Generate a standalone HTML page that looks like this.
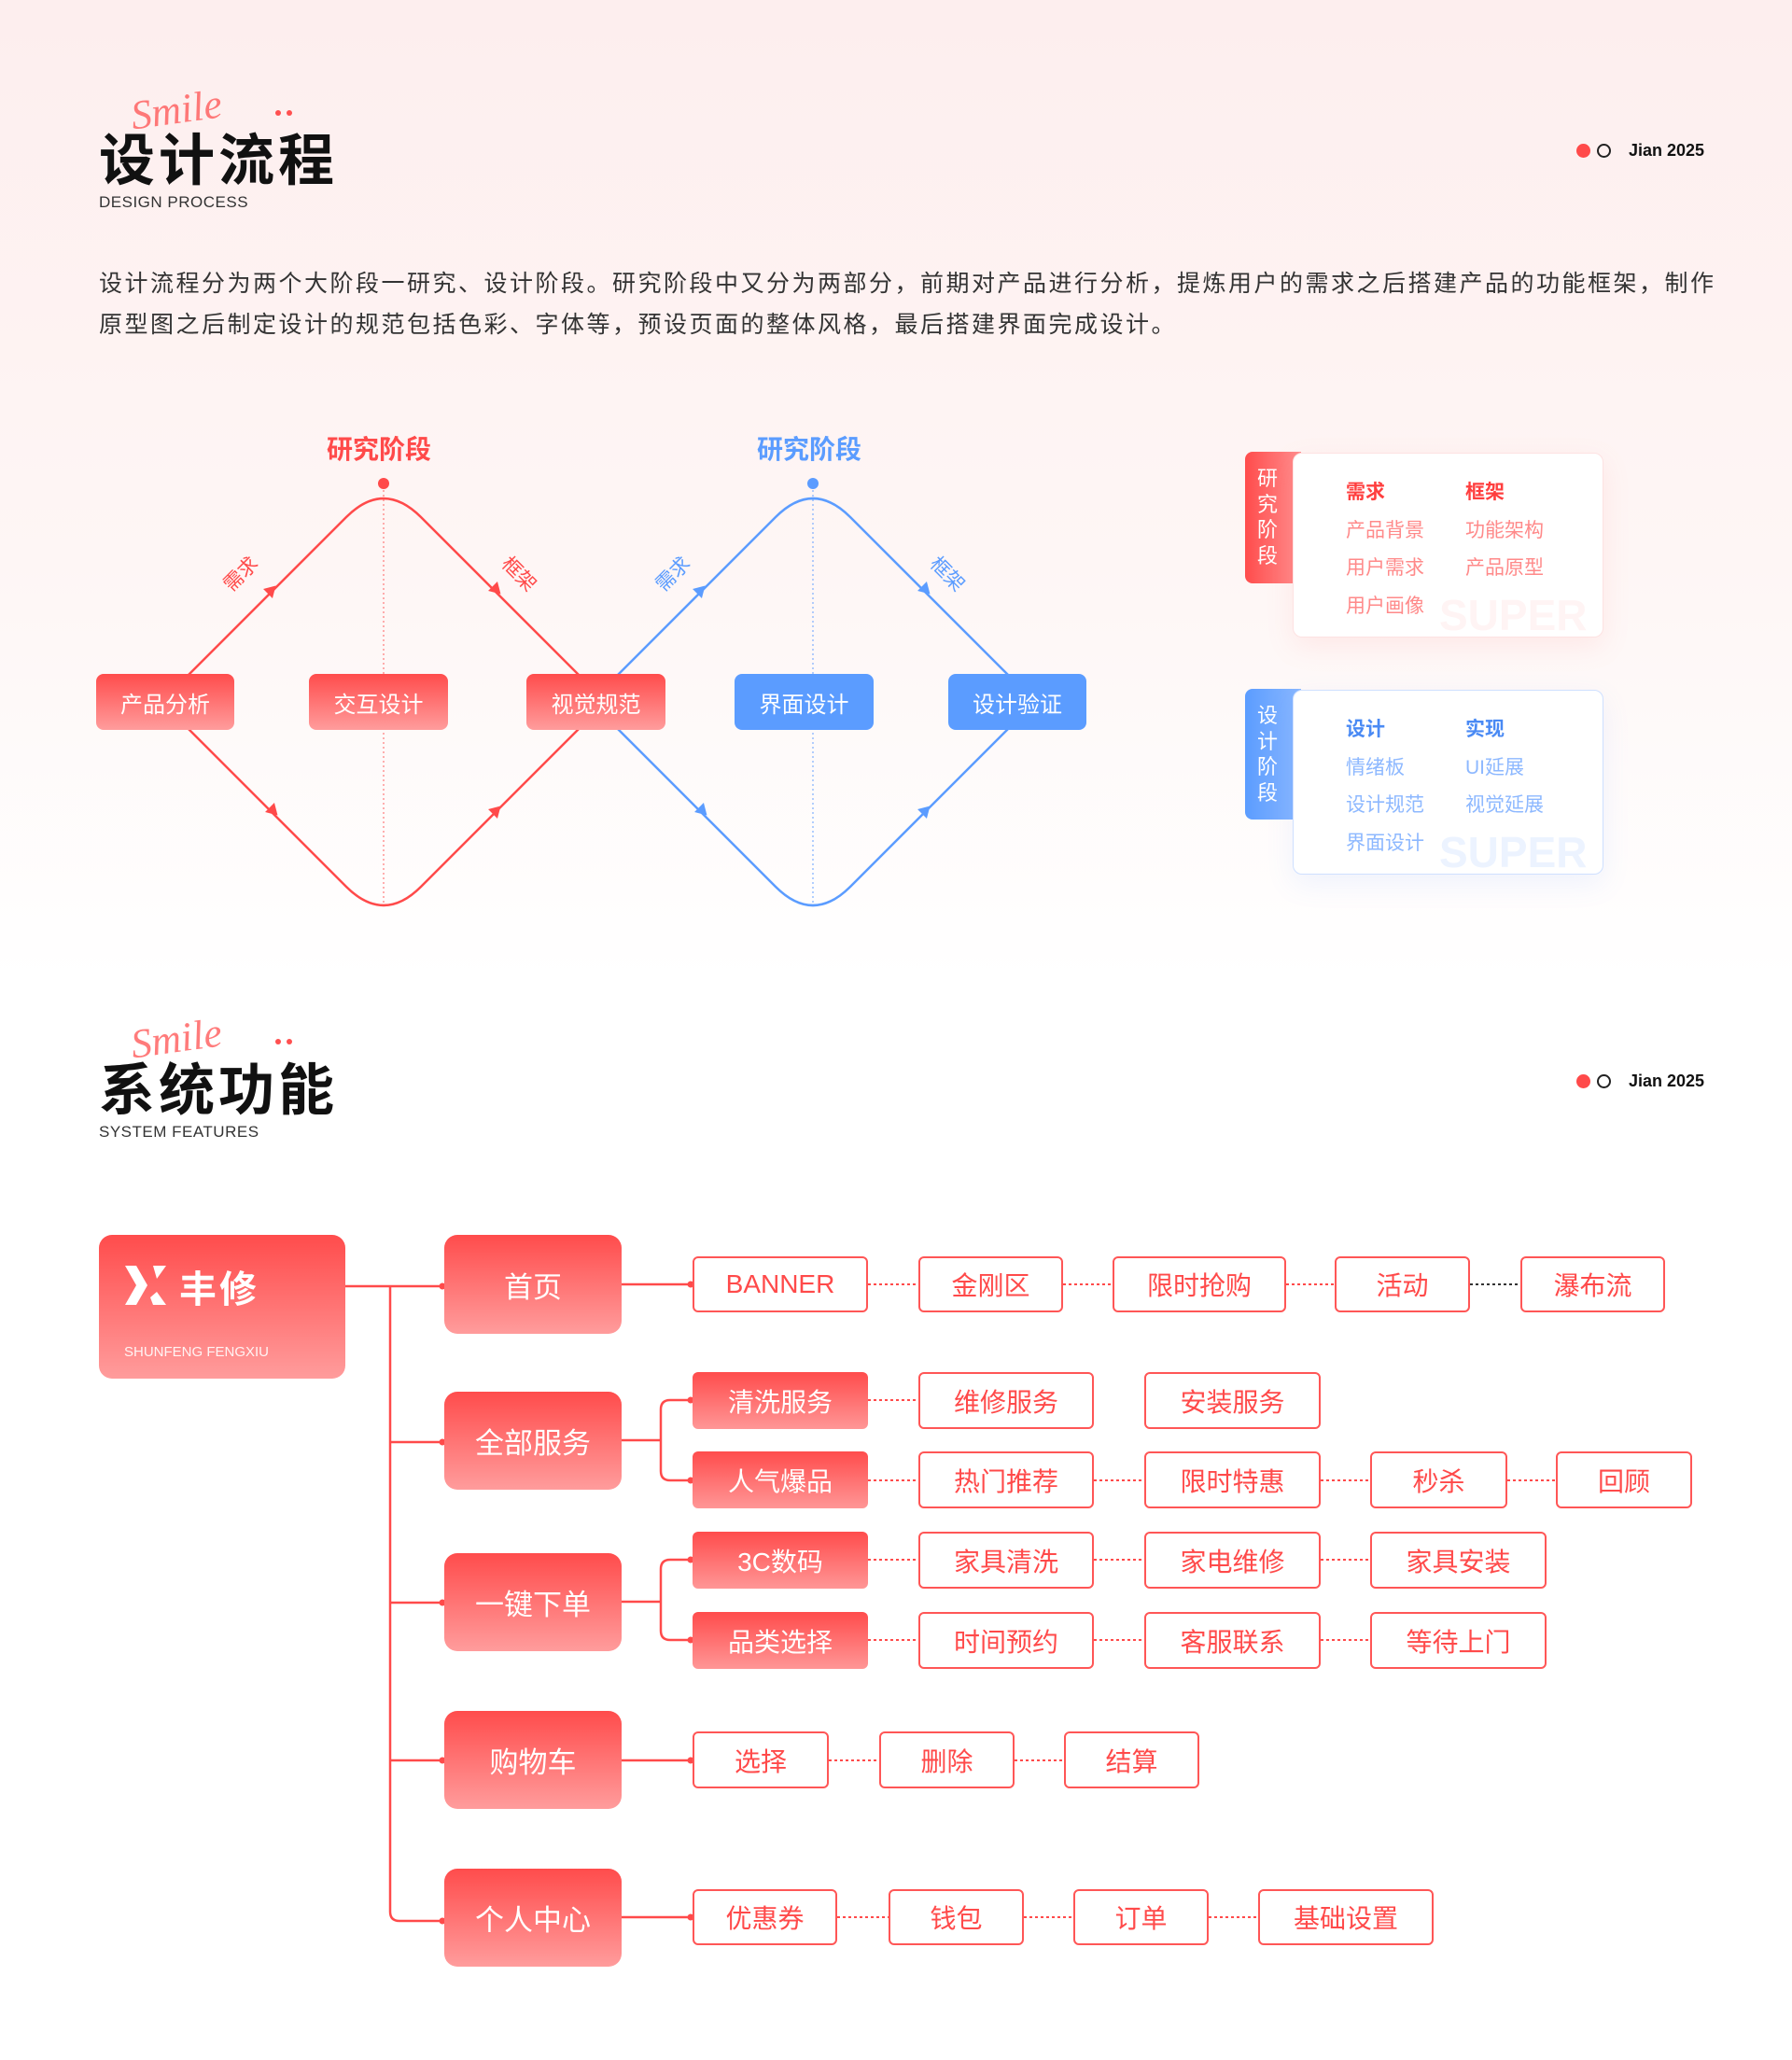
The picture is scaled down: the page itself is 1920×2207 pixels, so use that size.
<!DOCTYPE html>
<html><head><meta charset="utf-8">
<style>
*{margin:0;padding:0;box-sizing:border-box}
body{width:1920px;height:2207px;position:relative;overflow:hidden;font-family:"Liberation Sans","Noto Sans CJK SC",sans-serif;background:linear-gradient(180deg,#fdeeee 0px,#fef6f5 600px,#ffffff 1050px,#ffffff 2207px)}
.a{position:absolute}
.b{position:absolute;display:flex;align-items:center;justify-content:center;white-space:nowrap}
.rf{background:linear-gradient(180deg,#ff4c4c,#ff9c9c);color:#fff;border-radius:8px}
.bf{background:#5b9cff;color:#fff;border-radius:8px}
.o{border:2px solid #ff5656;background:#fff;color:#ff4a4a;border-radius:6px;font-size:28px}
.s{background:linear-gradient(180deg,#ff4c4c,#ff9696);color:#fff;border-radius:6px;font-size:28px}
.l1{background:linear-gradient(180deg,#ff4c4c,#ff9c9c);color:#fff;border-radius:14px;font-size:31px}
.title{font-size:60px;font-weight:bold;color:#111;letter-spacing:4px}
.script{font-family:"Liberation Serif",serif;font-style:italic;font-size:44px;color:#ff5050;opacity:.75;transform:rotate(-8deg)}
.sub{font-size:17px;color:#333;letter-spacing:.5px}
.jian{font-size:18px;color:#111;font-weight:bold}
</style></head><body>

<!-- header 1 -->
<div class="a script" style="left:140px;top:92px;">Smile</div>
<div class="a" style="left:295px;top:118px;width:6px;height:6px;border-radius:3px;background:#ff5050"></div>
<div class="a" style="left:307px;top:118px;width:6px;height:6px;border-radius:3px;background:#ff5050"></div>
<div class="a title" style="left:106px;top:124px;">设计流程</div>
<div class="a sub" style="left:106px;top:207px;">DESIGN PROCESS</div>
<div class="a" style="left:1689px;top:154px;width:15px;height:15px;border-radius:50%;background:#ff4a4a"></div>
<div class="a" style="left:1711px;top:154px;width:15px;height:15px;border-radius:50%;border:2px solid #222"></div>
<div class="a jian" style="left:1745px;top:151px;">Jian 2025</div>

<div class="a" style="left:106px;top:282px;font-size:25px;color:#333;letter-spacing:2.5px;line-height:44px;white-space:nowrap">设计流程分为两个大阶段一研究、设计阶段。研究阶段中又分为两部分，前期对产品进行分析，提炼用户的需求之后搭建产品的功能框架，制作<br>原型图之后制定设计的规范包括色彩、字体等，预设页面的整体风格，最后搭建界面完成设计。</div>

<svg class="a" style="left:0;top:0" width="1920" height="2207">
<line x1="411" y1="520" x2="411" y2="968" stroke="#ff6a6a" stroke-width="1.5" stroke-dasharray="2 3" opacity=".7"/>
<line x1="871" y1="520" x2="871" y2="968" stroke="#6ea6ff" stroke-width="1.5" stroke-dasharray="2 3" opacity=".7"/>
<path d="M173,752 L371,554 Q411,514 451,554 L649,752 L451,950 Q411,990 371,950 Z" fill="none" stroke="#ff4a4a" stroke-width="2.5"/>
<path d="M633,752 L831,554 Q871,514 911,554 L1109,752 L911,950 Q871,990 831,950 Z" fill="none" stroke="#5b9cff" stroke-width="2.5"/>
<circle cx="411" cy="518" r="6" fill="#ff4a4a"/>
<circle cx="871" cy="518" r="6" fill="#5b9cff"/>
<g fill="#ff4a4a">
<path d="M0,-7 L12,0 L0,7 Z" transform="translate(287,636) rotate(-45)"/>
<path d="M0,-7 L12,0 L0,7 Z" transform="translate(528,628) rotate(45)"/>
<path d="M0,-7 L12,0 L0,7 Z" transform="translate(289,865) rotate(45)"/>
<path d="M0,-7 L12,0 L0,7 Z" transform="translate(528,872) rotate(-45)"/>
</g>
<g fill="#5b9cff">
<path d="M0,-7 L12,0 L0,7 Z" transform="translate(747,636) rotate(-45)"/>
<path d="M0,-7 L12,0 L0,7 Z" transform="translate(988,628) rotate(45)"/>
<path d="M0,-7 L12,0 L0,7 Z" transform="translate(749,865) rotate(45)"/>
<path d="M0,-7 L12,0 L0,7 Z" transform="translate(988,872) rotate(-45)"/>
</g>
<g font-family="Liberation Sans,Noto Sans CJK SC,sans-serif" font-size="21" text-anchor="middle">
<text x="258" y="622" fill="#ff4a4a" transform="rotate(-45 258 615)">需求</text>
<text x="556" y="622" fill="#ff4a4a" transform="rotate(45 556 615)">框架</text>
<text x="721" y="622" fill="#5b9cff" transform="rotate(-45 721 615)">需求</text>
<text x="1015" y="622" fill="#5b9cff" transform="rotate(45 1015 615)">框架</text>
</g>

<g stroke="#ff4a4a" stroke-width="2.5" fill="none">
<line x1="370" y1="1378" x2="476" y2="1378"/>
<path d="M418,1378 L418,2048 Q418,2058 428,2058 L476,2058"/>
<line x1="418" y1="1545" x2="476" y2="1545"/>
<line x1="418" y1="1717" x2="476" y2="1717"/>
<line x1="418" y1="1886" x2="476" y2="1886"/>
<line x1="666" y1="1376" x2="742" y2="1376"/>
<line x1="666" y1="1543" x2="708" y2="1543"/>
<path d="M742,1500 L718,1500 Q708,1500 708,1510 L708,1576 Q708,1586 718,1586 L742,1586"/>
<line x1="666" y1="1716" x2="708" y2="1716"/>
<path d="M742,1671 L718,1671 Q708,1671 708,1681 L708,1747 Q708,1757 718,1757 L742,1757"/>
<line x1="666" y1="1886" x2="742" y2="1886"/>
<line x1="666" y1="2054" x2="742" y2="2054"/>
</g>
<g fill="#ff4a4a">
<circle cx="474" cy="1378" r="3.5"/><circle cx="474" cy="1545" r="3.5"/><circle cx="474" cy="1717" r="3.5"/><circle cx="474" cy="1886" r="3.5"/><circle cx="474" cy="2058" r="3.5"/>
<circle cx="740" cy="1376" r="3.5"/><circle cx="740" cy="1500" r="3.5"/><circle cx="740" cy="1586" r="3.5"/><circle cx="740" cy="1671" r="3.5"/><circle cx="740" cy="1757" r="3.5"/><circle cx="740" cy="1886" r="3.5"/><circle cx="740" cy="2054" r="3.5"/>
</g>
<g stroke="#ff4a4a" stroke-width="2" stroke-dasharray="3 3">
<line x1="930" y1="1376" x2="984" y2="1376"/><line x1="1139" y1="1376" x2="1192" y2="1376"/><line x1="1378" y1="1376" x2="1430" y2="1376"/>
<line x1="930" y1="1500" x2="984" y2="1500"/>
<line x1="930" y1="1586" x2="984" y2="1586"/><line x1="1172" y1="1586" x2="1226" y2="1586"/><line x1="1415" y1="1586" x2="1468" y2="1586"/><line x1="1615" y1="1586" x2="1667" y2="1586"/>
<line x1="930" y1="1671" x2="984" y2="1671"/><line x1="1172" y1="1671" x2="1226" y2="1671"/><line x1="1415" y1="1671" x2="1468" y2="1671"/>
<line x1="930" y1="1757" x2="984" y2="1757"/><line x1="1172" y1="1757" x2="1226" y2="1757"/><line x1="1415" y1="1757" x2="1468" y2="1757"/>
<line x1="888" y1="1886" x2="942" y2="1886"/><line x1="1087" y1="1886" x2="1140" y2="1886"/>
<line x1="897" y1="2054" x2="952" y2="2054"/><line x1="1097" y1="2054" x2="1150" y2="2054"/><line x1="1295" y1="2054" x2="1348" y2="2054"/>
</g>
<line x1="1575" y1="1376" x2="1629" y2="1376" stroke="#333" stroke-width="2" stroke-dasharray="3 3"/>
</svg>

<div class="a" style="left:350px;top:460px;font-size:28px;color:#ff4a4a;font-weight:bold;">研究阶段</div>
<div class="a" style="left:811px;top:460px;font-size:28px;color:#5b9cff;font-weight:bold;">研究阶段</div>

<div class="b rf" style="left:103px;top:722px;width:148px;height:60px;font-size:24px">产品分析</div>
<div class="b rf" style="left:331px;top:722px;width:149px;height:60px;font-size:24px">交互设计</div>
<div class="b rf" style="left:564px;top:722px;width:149px;height:60px;font-size:24px">视觉规范</div>
<div class="b bf" style="left:787px;top:722px;width:149px;height:60px;font-size:24px">界面设计</div>
<div class="b bf" style="left:1016px;top:722px;width:148px;height:60px;font-size:24px">设计验证</div>

<div class="a" style="left:1334px;top:484px;width:60px;height:141px;border-radius:8px 0 0 8px;background:linear-gradient(90deg,#ff4c4c,#ff8e8e)"></div>
<div class="a" style="left:1385px;top:485px;width:333px;height:198px;border-radius:10px;background:#fff;border:1.5px solid #fde2e2;box-shadow:0 10px 30px rgba(255,120,120,.12);overflow:hidden">
 <div class="a" style="left:156px;top:146px;font-size:46px;font-weight:bold;color:#fff4f4;">SUPER</div>
</div>
<div class="a" style="left:1346px;top:499px;width:24px;font-size:22px;line-height:27.5px;color:#fff;text-align:center">研究阶段</div>
<div class="a" style="left:1442px;top:508px;font-size:21px;line-height:40.5px;color:#ff8a8a"><b style="color:#ff3e3e">需求</b><br>产品背景<br>用户需求<br>用户画像</div>
<div class="a" style="left:1570px;top:508px;font-size:21px;line-height:40.5px;color:#ff8a8a"><b style="color:#ff3e3e">框架</b><br>功能架构<br>产品原型</div>

<div class="a" style="left:1334px;top:738px;width:60px;height:140px;border-radius:8px 0 0 8px;background:linear-gradient(90deg,#5b9cff,#8ab8ff)"></div>
<div class="a" style="left:1385px;top:739px;width:333px;height:198px;border-radius:10px;background:#fff;border:1.5px solid #cfe0ff;box-shadow:0 10px 30px rgba(100,150,255,.10);overflow:hidden">
 <div class="a" style="left:156px;top:146px;font-size:46px;font-weight:bold;color:#ecf3ff;">SUPER</div>
</div>
<div class="a" style="left:1346px;top:753px;width:24px;font-size:22px;line-height:27.5px;color:#fff;text-align:center">设计阶段</div>
<div class="a" style="left:1442px;top:762px;font-size:21px;line-height:40.5px;color:#8db8ff"><b style="color:#4a8af4">设计</b><br>情绪板<br>设计规范<br>界面设计</div>
<div class="a" style="left:1570px;top:762px;font-size:21px;line-height:40.5px;color:#8db8ff"><b style="color:#4a8af4">实现</b><br>UI延展<br>视觉延展</div>

<div class="a script" style="left:140px;top:1087px;">Smile</div>
<div class="a" style="left:295px;top:1113px;width:6px;height:6px;border-radius:3px;background:#ff5050"></div>
<div class="a" style="left:307px;top:1113px;width:6px;height:6px;border-radius:3px;background:#ff5050"></div>
<div class="a title" style="left:106px;top:1120px;">系统功能</div>
<div class="a sub" style="left:106px;top:1203px;">SYSTEM FEATURES</div>
<div class="a" style="left:1689px;top:1151px;width:15px;height:15px;border-radius:50%;background:#ff4a4a"></div>
<div class="a" style="left:1711px;top:1151px;width:15px;height:15px;border-radius:50%;border:2px solid #222"></div>
<div class="a jian" style="left:1745px;top:1148px;">Jian 2025</div>

<div class="a rf" style="left:106px;top:1323px;width:264px;height:154px;border-radius:14px"></div>
<svg class="a" style="left:134px;top:1356px" width="46" height="42" viewBox="0 0 46 42">
<path d="M0,0 H12 L24,21 L12,42 H0 L12,21 Z" fill="#fff"/>
<path d="M30,0 H44 L34,14 Z M34,28 L44,42 H30 L27,34 Z" fill="#fff"/>
</svg>
<div class="a" style="left:192px;top:1349px;font-size:40px;font-weight:bold;color:#fff;letter-spacing:3px">丰修</div>
<div class="a" style="left:133px;top:1440px;font-size:15px;color:#fff;opacity:.9">SHUNFENG FENGXIU</div>

<div class="b l1" style="left:476px;top:1323px;width:190px;height:106px">首页</div>
<div class="b l1" style="left:476px;top:1491px;width:190px;height:105px">全部服务</div>
<div class="b l1" style="left:476px;top:1664px;width:190px;height:105px">一键下单</div>
<div class="b l1" style="left:476px;top:1833px;width:190px;height:105px">购物车</div>
<div class="b l1" style="left:476px;top:2002px;width:190px;height:105px">个人中心</div>

<div class="b o" style="left:742px;top:1346px;width:188px;height:60px">BANNER</div>
<div class="b o" style="left:984px;top:1346px;width:155px;height:60px">金刚区</div>
<div class="b o" style="left:1192px;top:1346px;width:186px;height:60px">限时抢购</div>
<div class="b o" style="left:1430px;top:1346px;width:145px;height:60px">活动</div>
<div class="b o" style="left:1629px;top:1346px;width:155px;height:60px">瀑布流</div>

<div class="b s" style="left:742px;top:1470px;width:188px;height:61px">清洗服务</div>
<div class="b o" style="left:984px;top:1470px;width:188px;height:61px">维修服务</div>
<div class="b o" style="left:1226px;top:1470px;width:189px;height:61px">安装服务</div>

<div class="b s" style="left:742px;top:1555px;width:188px;height:61px">人气爆品</div>
<div class="b o" style="left:984px;top:1555px;width:188px;height:61px">热门推荐</div>
<div class="b o" style="left:1226px;top:1555px;width:189px;height:61px">限时特惠</div>
<div class="b o" style="left:1468px;top:1555px;width:147px;height:61px">秒杀</div>
<div class="b o" style="left:1667px;top:1555px;width:146px;height:61px">回顾</div>

<div class="b s" style="left:742px;top:1641px;width:188px;height:61px">3C数码</div>
<div class="b o" style="left:984px;top:1641px;width:188px;height:61px">家具清洗</div>
<div class="b o" style="left:1226px;top:1641px;width:189px;height:61px">家电维修</div>
<div class="b o" style="left:1468px;top:1641px;width:189px;height:61px">家具安装</div>

<div class="b s" style="left:742px;top:1727px;width:188px;height:61px">品类选择</div>
<div class="b o" style="left:984px;top:1727px;width:188px;height:61px">时间预约</div>
<div class="b o" style="left:1226px;top:1727px;width:189px;height:61px">客服联系</div>
<div class="b o" style="left:1468px;top:1727px;width:189px;height:61px">等待上门</div>

<div class="b o" style="left:742px;top:1855px;width:146px;height:61px">选择</div>
<div class="b o" style="left:942px;top:1855px;width:145px;height:61px">删除</div>
<div class="b o" style="left:1140px;top:1855px;width:145px;height:61px">结算</div>

<div class="b o" style="left:742px;top:2024px;width:155px;height:60px">优惠券</div>
<div class="b o" style="left:952px;top:2024px;width:145px;height:60px">钱包</div>
<div class="b o" style="left:1150px;top:2024px;width:145px;height:60px">订单</div>
<div class="b o" style="left:1348px;top:2024px;width:188px;height:60px">基础设置</div>

</body></html>
